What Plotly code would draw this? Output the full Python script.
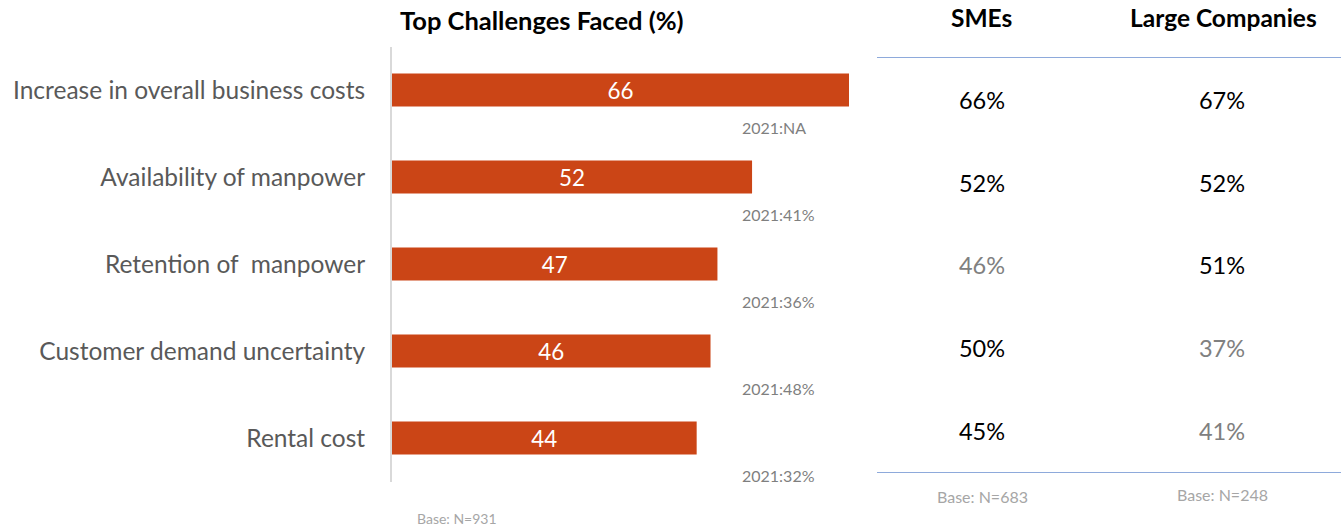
import plotly.graph_objects as go

categories = ["Increase in overall business costs", "Availability of manpower",
              "Retention of  manpower", "Customer demand uncertainty", "Rental cost"]
values_2023 = [66, 52, 47, 46, 44]
labels_2021 = ["2021:NA", "2021:41%", "2021:36%", "2021:48%", "2021:32%"]
segments = ["SMEs", "Large Companies"]
sme_values = [66, 52, 46, 50, 45]
large_values = [67, 52, 51, 37, 41]
base_total = "Base: N=931"
base_sme = "Base: N=683"
base_large = "Base: N=248"

W, H = 1341, 528
FONT = "Lato, Carlito, Calibri, sans-serif"
BAR = "#CB4516"
GREY_TXT = "#595959"
LIGHT = "#A6A6A6"

def px(xp):
    return xp / W

def py(yp):
    return 1 - yp / H

fig = go.Figure()

fig.add_trace(go.Bar(
    x=values_2023, y=categories, orientation="h",
    marker=dict(color=BAR, line=dict(width=0)),
    text=values_2023, texttemplate="%{text}", textposition="inside",
    insidetextanchor="middle", textangle=0,
    textfont=dict(color="white", size=24, family=FONT),
    hoverinfo="skip", xaxis="x", yaxis="y", showlegend=False,
))

# table values
tx, ty, tt, tc = [], [], [], []
for i, cat in enumerate(categories):
    for seg, vals in zip(segments, [sme_values, large_values]):
        tx.append(seg)
        ty.append(cat)
        tt.append(f"{vals[i]}%")
        tc.append("#808080" if vals[i] < values_2023[i] else "#000000")
fig.add_trace(go.Scatter(
    x=tx, y=ty, mode="text", text=tt,
    textfont=dict(size=23.5, family=FONT, color=tc),
    xaxis="x2", yaxis="y2", hoverinfo="skip", showlegend=False,
))

scale = (849 - 392) / 66.0
x_end = 880
n = len(categories)
row_px = (472 - 58) / n
shift = 3.5 / row_px
fig.update_layout(
    width=W, height=H,
    margin=dict(l=0, r=0, t=0, b=0),
    paper_bgcolor="white", plot_bgcolor="rgba(0,0,0,0)",
    bargap=0.62,
    font=dict(family=FONT),
    xaxis=dict(domain=[px(392), px(x_end)], range=[0, (x_end - 392) / scale],
               showgrid=False, zeroline=False, showline=False, showticklabels=False,
               fixedrange=True),
    yaxis=dict(domain=[py(481.5), py(46.5)], categoryorder="array",
               categoryarray=categories, range=[n - 0.5, -0.5],
               showgrid=False, zeroline=False, showline=True,
               linecolor="#D9D9D9", linewidth=2,
               ticks="", ticklabelstandoff=20,
               tickfont=dict(size=24.5, color=GREY_TXT, family=FONT)),
    xaxis2=dict(domain=[px(877), 1], range=[-0.4375, 1.496],
                categoryorder="array", categoryarray=segments,
                showgrid=False, zeroline=False, showline=True, mirror=True,
                linecolor="#8EAADB", linewidth=1.2, showticklabels=False,
                anchor="y2"),
    yaxis2=dict(domain=[py(472), py(58)], categoryorder="array",
                categoryarray=categories, range=[n - 0.5 - shift, -0.5 - shift],
                showgrid=False, zeroline=False, showline=False,
                showticklabels=False, anchor="x2"),
)

ann = []
for cat, lab in zip(categories, labels_2021):
    ann.append(dict(x=(740 - 392) / scale, y=cat, xref="x", yref="y",
                    text=lab, showarrow=False, xanchor="left", yanchor="middle",
                    yshift=-37, font=dict(size=16, color="#7F7F7F", family=FONT)))
ann.append(dict(x=px(542), y=py(20), xref="paper", yref="paper",
                text="<b>Top Challenges Faced (%)</b>", showarrow=False,
                xanchor="center", yanchor="middle",
                font=dict(size=25.5, color="black", family=FONT)))
ann.append(dict(x=px(981), y=py(18), xref="paper", yref="paper",
                text="<b>SMEs</b>", showarrow=False, xanchor="center", yanchor="middle",
                font=dict(size=24.5, color="black", family=FONT)))
ann.append(dict(x=px(1223), y=py(18), xref="paper", yref="paper",
                text="<b>Large Companies</b>", showarrow=False, xanchor="center",
                yanchor="middle", font=dict(size=24.5, color="black", family=FONT)))
ann.append(dict(x=px(415), y=py(518), xref="paper", yref="paper",
                text=base_total, showarrow=False, xanchor="left", yanchor="middle",
                font=dict(size=14, color=LIGHT, family=FONT)))
ann.append(dict(x=px(982), y=py(496), xref="paper", yref="paper",
                text=base_sme, showarrow=False, xanchor="center", yanchor="middle",
                font=dict(size=16, color=LIGHT, family=FONT)))
ann.append(dict(x=px(1222), y=py(494), xref="paper", yref="paper",
                text=base_large, showarrow=False, xanchor="center", yanchor="middle",
                font=dict(size=16, color=LIGHT, family=FONT)))
fig.update_layout(annotations=ann)

fig.write_html("out.html")
